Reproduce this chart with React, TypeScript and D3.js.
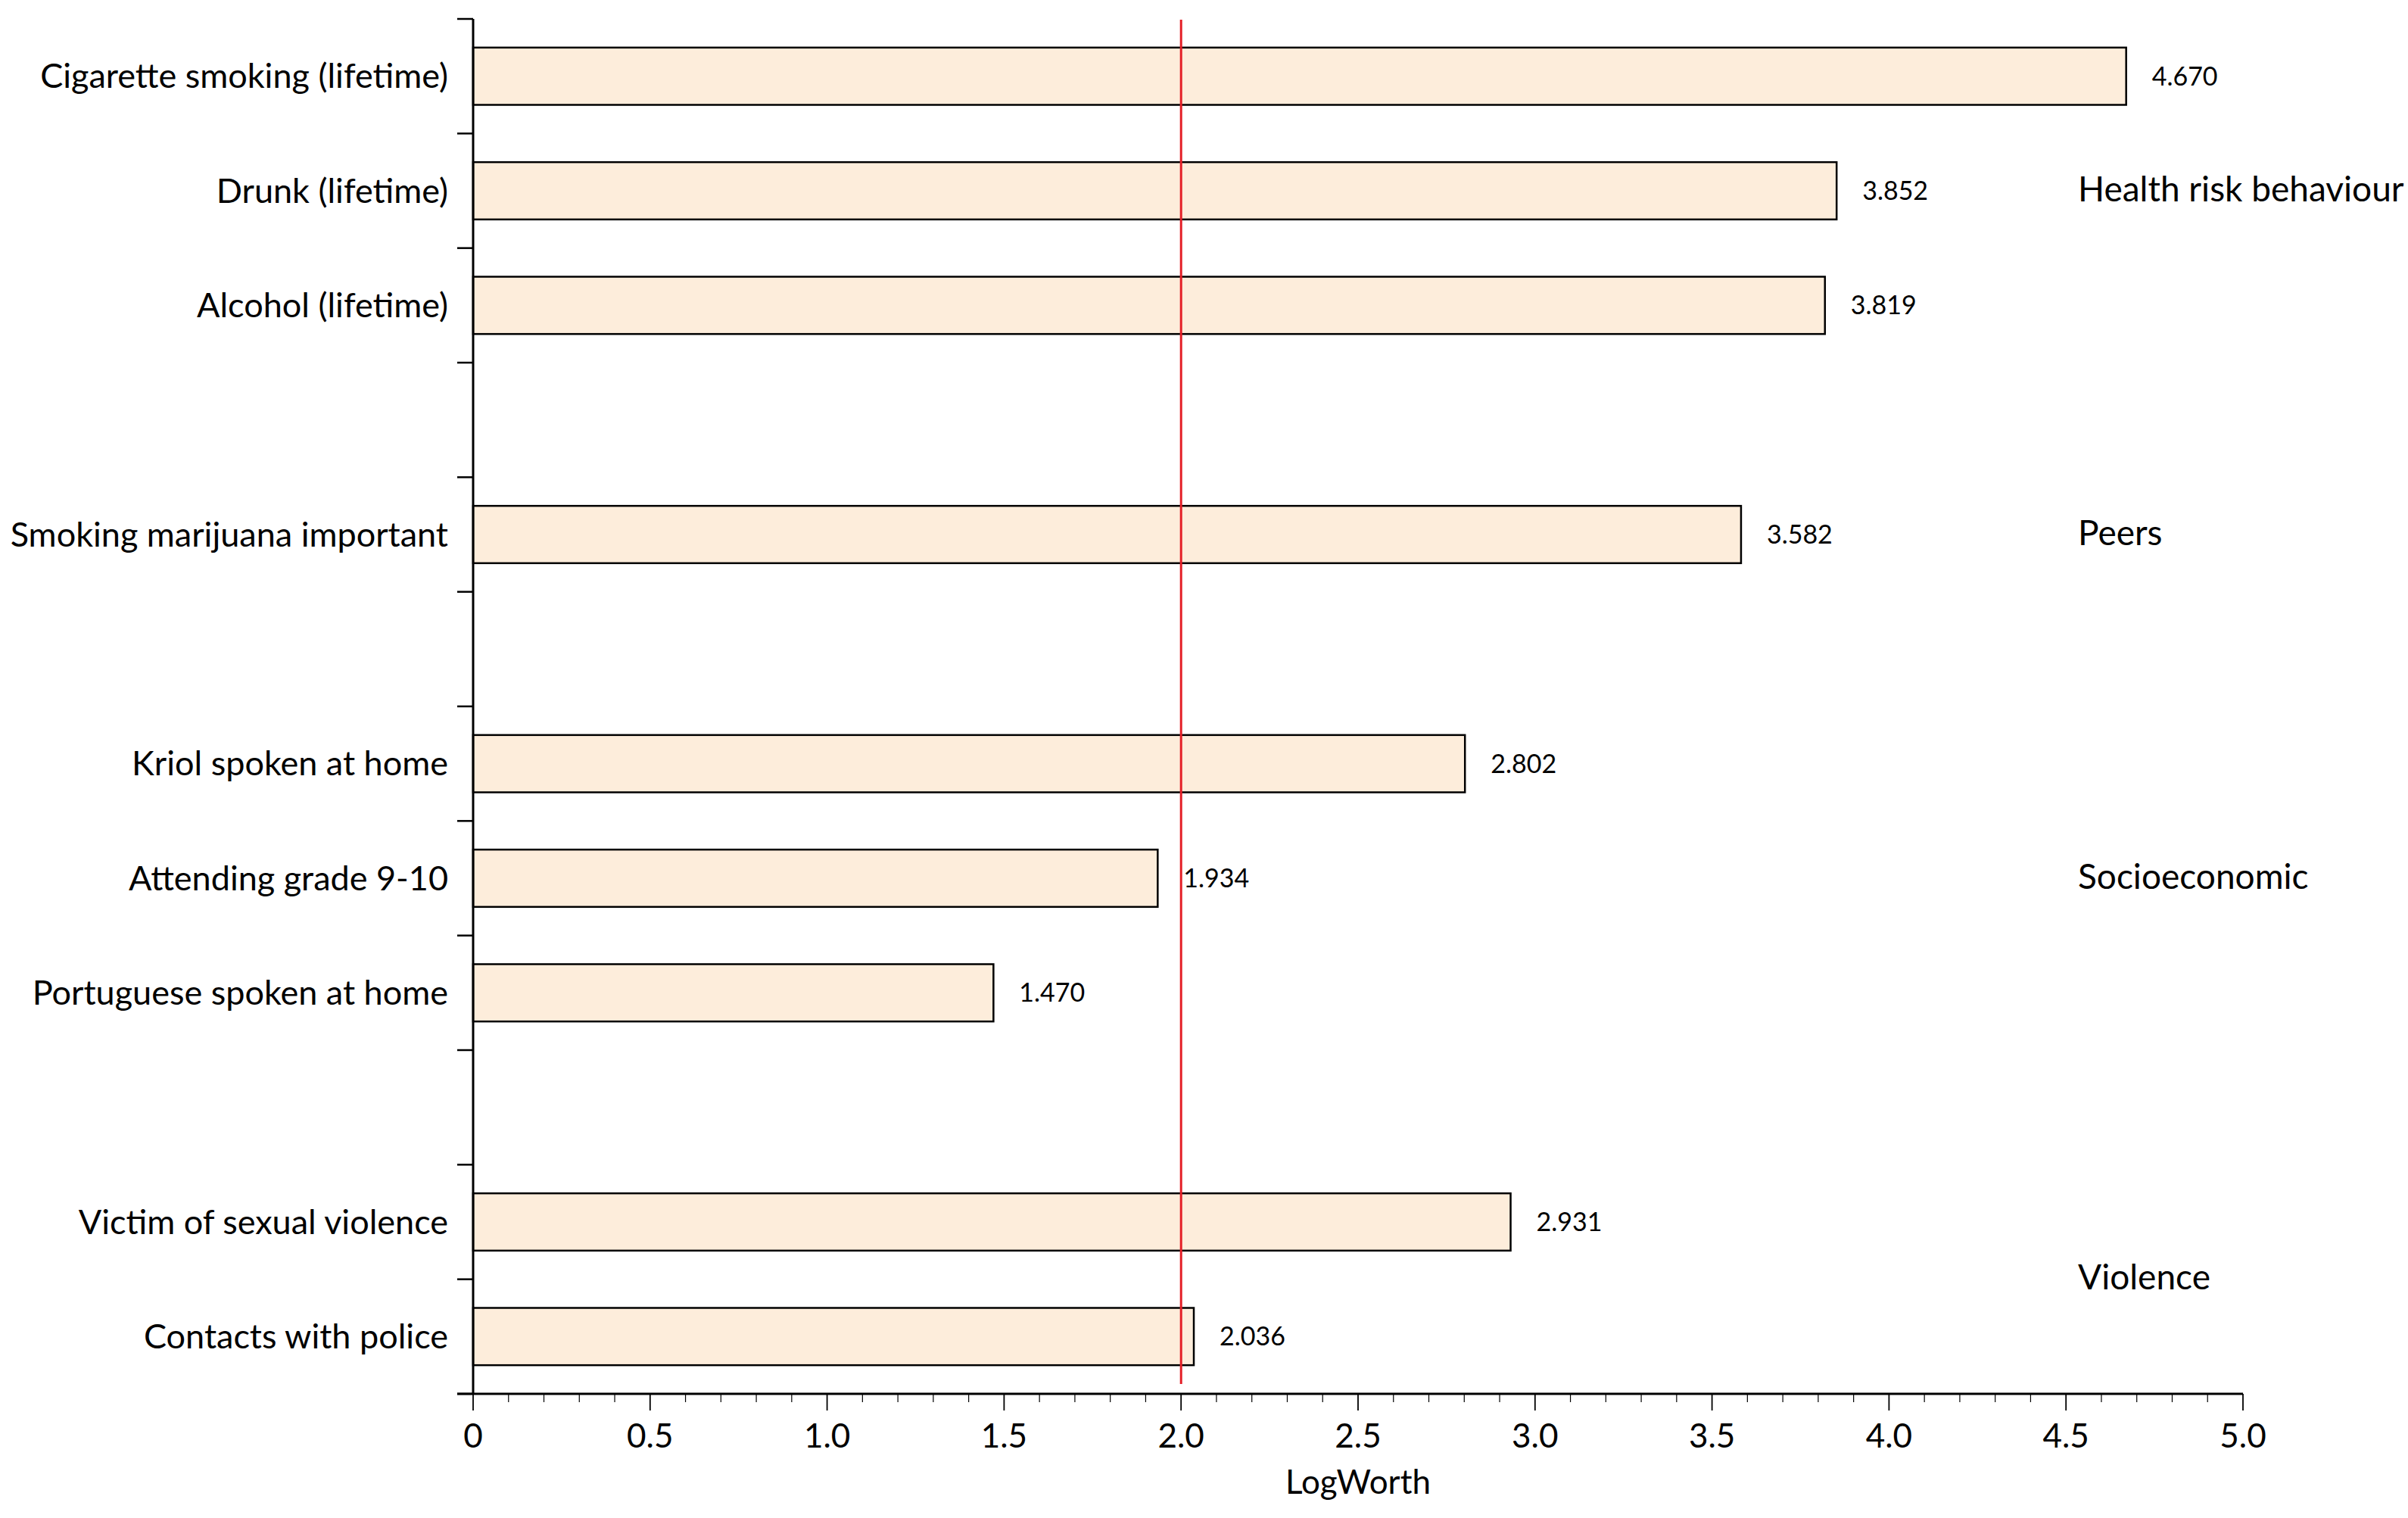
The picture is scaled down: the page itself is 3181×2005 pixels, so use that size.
import React from "react";
import * as d3 from "d3";

const categories = [
  "Cigarette smoking (lifetime)",
  "Drunk (lifetime)",
  "Alcohol (lifetime)",
  "Smoking marijuana important",
  "Kriol spoken at home",
  "Attending grade 9-10",
  "Portuguese spoken at home",
  "Victim of sexual violence",
  "Contacts with police",
];
const logWorth = [4.67, 3.852, 3.819, 3.582, 2.802, 1.934, 1.47, 2.931, 2.036];
const categoryGroup = [
  "Health risk behaviour",
  "Health risk behaviour",
  "Health risk behaviour",
  "Peers",
  "Socioeconomic",
  "Socioeconomic",
  "Socioeconomic",
  "Violence",
  "Violence",
];
const groupNames = ["Health risk behaviour", "Peers", "Socioeconomic", "Violence"];
const xTickValues = [0, 0.5, 1, 1.5, 2, 2.5, 3, 3.5, 4, 4.5, 5];
const threshold = 2.0;
const xAxisTitle = "LogWorth";

const W = 3181;
const H = 2005;
const M = { left: 625, right: 2963, top: 25, bottom: 1841 };
const FONT = "Lato, 'Open Sans', sans-serif";

export default function App() {
  // build slot domain with gaps between groups
  const slots: string[] = [];
  groupNames.forEach((g, gi) => {
    categories.forEach((c, i) => {
      if (categoryGroup[i] === g) slots.push(c);
    });
    if (gi < groupNames.length - 1) slots.push(`__gap${gi}`);
  });

  const x = d3.scaleLinear().domain([0, 5]).range([M.left, M.right]);
  const y = d3
    .scaleBand<string>()
    .domain(slots)
    .range([M.top, M.bottom])
    .paddingInner(0.5)
    .paddingOuter(0.25);
  const step = y.step();
  const boundaries = d3.range(slots.length + 1).map((i) => M.top + i * step);
  const minorTicks = d3.range(0, 51).map((i) => i / 10);

  const groupCenters = groupNames.map((g) => {
    const cs = categories.filter((_, i) => categoryGroup[i] === g);
    return d3.mean(cs, (c) => (y(c) as number) + y.bandwidth() / 2) as number;
  });

  return (
    <svg
      width={W}
      height={H}
      style={{ position: "absolute", left: 0, top: 0, background: "#fff" }}
      fontFamily={FONT}
    >
      <rect x={0} y={0} width={W} height={H} fill="#fff" />
      {/* bars */}
      {categories.map((c, i) => (
        <g key={c}>
          <rect
            x={x(0)}
            y={y(c)}
            width={x(logWorth[i]) - x(0)}
            height={y.bandwidth()}
            fill="#fdeddb"
            stroke="#000"
            strokeWidth={2.5}
          />
          <text
            x={x(logWorth[i]) + 34}
            y={(y(c) as number) + y.bandwidth() / 2}
            dy="0.35em"
            fontSize={34}
            fill="#000"
          >
            {logWorth[i].toFixed(3)}
          </text>
          <text
            x={M.left - 33}
            y={(y(c) as number) + y.bandwidth() / 2}
            dy="0.35em"
            textAnchor="end"
            fontSize={45}
            fill="#000"
          >
            {c}
          </text>
        </g>
      ))}
      {/* threshold line */}
      <line
        x1={x(threshold)}
        x2={x(threshold)}
        y1={M.top + 1}
        y2={M.bottom - 13}
        stroke="#e41e26"
        strokeWidth={3}
      />
      {/* y axis */}
      <line x1={M.left} x2={M.left} y1={M.top} y2={M.bottom} stroke="#000" strokeWidth={3} />
      {boundaries.map((b, i) => (
        <line key={i} x1={M.left - 21} x2={M.left} y1={b} y2={b} stroke="#000" strokeWidth={2.5} />
      ))}
      {/* x axis */}
      <line x1={M.left - 21} x2={M.right} y1={M.bottom} y2={M.bottom} stroke="#000" strokeWidth={3} />
      {minorTicks.map((t, i) => (
        <line
          key={i}
          x1={x(t)}
          x2={x(t)}
          y1={M.bottom}
          y2={M.bottom + (i % 5 === 0 ? 22 : 11)}
          stroke="#000"
          strokeWidth={i % 5 === 0 ? 1.8 : 1.2}
        />
      ))}
      {xTickValues.map((t) => (
        <text key={t} x={x(t)} y={1912} textAnchor="middle" fontSize={44} fill="#000">
          {t === 0 ? "0" : t.toFixed(1)}
        </text>
      ))}
      <text x={(x(0) + x(5)) / 2} y={1973} textAnchor="middle" fontSize={44} fill="#000">
        {xAxisTitle}
      </text>
      {/* group labels */}
      {groupNames.map((g, i) => (
        <text key={g} x={2745} y={groupCenters[i]} dy="0.3em" fontSize={46} fill="#000">
          {g}
        </text>
      ))}
    </svg>
  );
}
